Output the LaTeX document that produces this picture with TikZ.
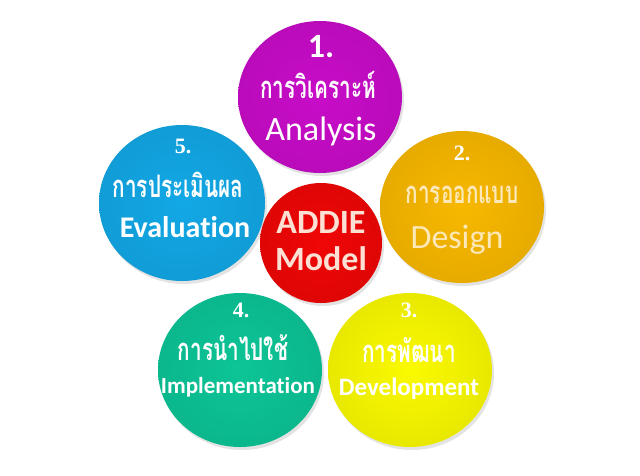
\documentclass[tikz,border=0pt]{standalone}
\usepackage{fontspec}
\setmainfont{Carlito}[Ligatures=CommonOff]
\newfontfamily\thaifont[Script=Thai, FakeStretch=0.67]{Loma}
\newfontfamily\numfont{Liberation Serif}
\usetikzlibrary{shadows}
\definecolor{purp}{HTML}{C80CC8}
\definecolor{sky}{HTML}{12A8E6}
\definecolor{amber}{HTML}{F8B800}
\definecolor{leaf}{HTML}{0CC597}
\definecolor{lemon}{HTML}{FAFA00}
\definecolor{cherry}{HTML}{F00606}
\definecolor{cream}{HTML}{FCE8B8}
\definecolor{blush}{HTML}{FDE0D4}
\tikzset{
	ball/.style={inner color=#1, outer color=#1!93!black,
		drop shadow={opacity=0.22, shadow xshift=2pt, shadow yshift=-3pt}},
	txt/.style={anchor=base, inner sep=0pt, text=white},
	thai/.style={txt, font=\thaifont\bfseries\fontsize{31}{31}\selectfont},
	num/.style={txt, font=\numfont\bfseries\fontsize{22}{22}\selectfont},
}

\begin{document}
\begin{tikzpicture}[x=1pt, y=-1pt]
		%%%%% START %%%%%
		\fill[white] (0, 0) rectangle (640, 475);
		\useasboundingbox (0, 0) rectangle (640, 475);
		
		\shade[ball=purp] (320, 97) ellipse (82pt and 76pt);
		\shade[ball=sky] (182, 203) ellipse (83pt and 78pt);
		\shade[ball=amber] (462, 207) ellipse (82pt and 76pt);
		\shade[ball=leaf] (240, 370) ellipse (82pt and 77pt);
		\shade[ball=lemon] (410, 370) ellipse (82pt and 77pt);
		\shade[ball=cherry] (321, 243) ellipse (61pt and 60pt);
		
		% 1. analysis
		\node[txt, font=\bfseries\fontsize{34}{34}\selectfont] (n1) at (321, 57) {1.};
		\node[thai] (th1) at (318, 98) {การวิเคราะห์};
		\node[txt, font=\fontsize{34}{34}\selectfont] (en1) at (321, 140) {Analysis};
		
		% 2. design
		\node[num] (n2) at (462, 160) {2.};
		\node[thai, text=cream] (th2) at (462, 203) {การออกแบบ};
		\node[txt, text=cream, font=\fontsize{34}{34}\selectfont] (en2) at (457, 248) {Design};
		
		% 3. development
		\node[num] (n3) at (409, 317) {3.};
		\node[thai] (th3) at (409, 362) {การพัฒนา};
		\node[txt, font=\bfseries\fontsize{25}{25}\selectfont] (en3) at (409, 395) {Development};
		
		% 4. implementation
		\node[num] (n4) at (241, 317) {4.};
		\node[thai] (th4) at (233, 360) {การนำไปใช้};
		\node[txt, font=\bfseries\fontsize{23}{23}\selectfont] (en4) at (238, 393) {Implementation};
		
		% 5. evaluation
		\node[num] (n5) at (183, 153) {5.};
		\node[thai] (th5) at (178, 197) {การประเมินผล};
		\node[txt, font=\bfseries\fontsize{30}{30}\selectfont] (en5) at (185, 237) {Evaluation};
		
		% centre
		\node[txt, text=blush, font=\bfseries\fontsize{34}{34}\selectfont] (addie) at (321, 233) {ADDIE};
		\node[txt, text=blush, font=\bfseries\fontsize{34}{34}\selectfont] (model) at (321, 270) {Model};
		
		%%%%% END %%%%%
\end{tikzpicture}
\end{document}
